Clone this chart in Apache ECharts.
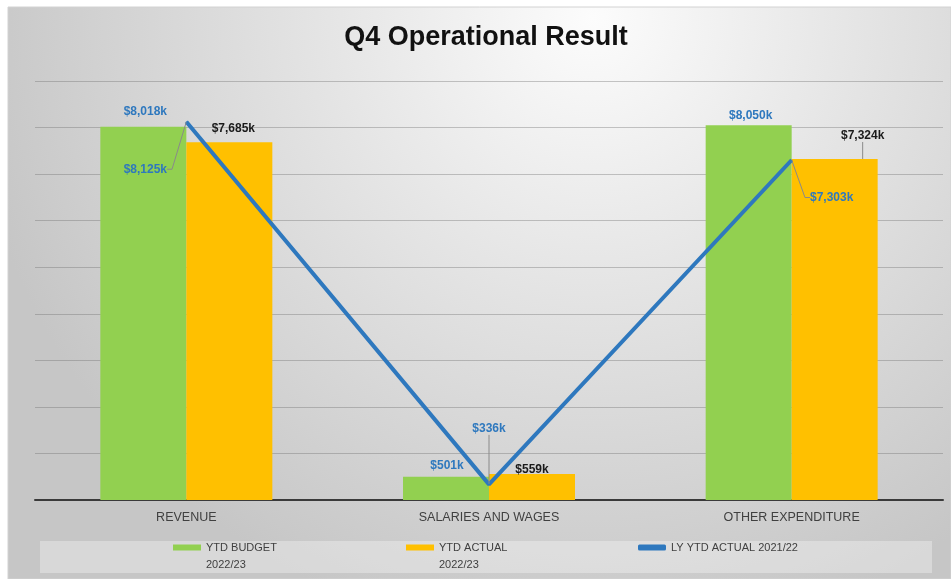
<!DOCTYPE html>
<html>
<head>
<meta charset="utf-8">
<title>Q4 Operational Result</title>
<script src="https://cdn.jsdelivr.net/npm/echarts@6/dist/echarts.min.js"></script>
<style>
  html, body { margin: 0; padding: 0; background: #ffffff; }
  #chart { width: 951px; height: 579px; }
</style>
</head>
<body>
<div id="chart"></div>
<script>
// Categories and values in $k
const categories = ['REVENUE', 'SALARIES AND WAGES', 'OTHER EXPENDITURE'];
const ytdBudget = [8018, 501, 8050];
const ytdActual = [7685, 559, 7324];
const lyYtdActual = [8125, 336, 7303];
const seriesNames = ['YTD BUDGET\n2022/23', 'YTD ACTUAL\n2022/23', 'LY YTD ACTUAL 2021/22'];

// Label nudges (pixels) per category, kept apart from the values
const budgetLabelShift = [{ dx: 2, dy: -4 }, { dx: 1, dy: 0 }, { dx: 2, dy: 1 }];
const actualLabelShift = [{ dx: 4, dy: -3 }, { dx: 0, dy: 7 }, { dx: 28, dy: -12 }];
const lyLabelShift = [{ dx: -41, dy: 59 }, { dx: 0, dy: -44 }, { dx: 40, dy: 49 }];
const actualLeader = [false, false, true];

const BLUE = '#2E78BE';
const GREEN = '#92D050';
const YELLOW = '#FFC000';
const TEXT_DARK = '#404040';
const fmtK = v => '$' + v.toLocaleString('en-US') + 'k';

const chart = echarts.init(document.getElementById('chart'));

const legendBase = {
  orient: 'horizontal',
  padding: 0,
  itemWidth: 28,
  itemHeight: 6,
  itemGap: 0,
  textStyle: { fontFamily: 'Liberation Sans', fontSize: 11, color: TEXT_DARK, lineHeight: 17 }
};
// two-line names: a blank leading line keeps the swatch level with the first text line
const twoLineLegend = name => ' \n' + name;

chart.setOption({
  animation: false,
  textStyle: { fontFamily: 'Liberation Sans' },
  graphic: [
    {
      type: 'rect', z: -10, silent: true,
      shape: { x: 8, y: 7, width: 943, height: 572 },
      style: {
        fill: new echarts.graphic.RadialGradient(0.62, 0.02, 1.1, [
          { offset: 0, color: '#fcfcfc' },
          { offset: 0.4, color: '#e6e6e6' },
          { offset: 1, color: '#c6c6c6' }
        ]),
        stroke: '#d2d2d2', lineWidth: 1
      }
    },
    {
      type: 'rect', z: -5, silent: true,
      shape: { x: 40, y: 541, width: 892, height: 32 },
      style: { fill: 'rgba(255,255,255,0.32)' }
    }
  ],
  title: {
    text: 'Q4 Operational Result',
    left: 481, top: 19, textAlign: 'center',
    textStyle: { fontFamily: 'Liberation Sans', fontWeight: 'bold', fontSize: 27, color: '#111111' }
  },
  legend: [
    Object.assign({}, legendBase, {
      data: [seriesNames[0]], left: 173, top: 522, icon: 'rect', formatter: twoLineLegend
    }),
    Object.assign({}, legendBase, {
      data: [seriesNames[1]], left: 406, top: 522, icon: 'rect', formatter: twoLineLegend
    }),
    Object.assign({}, legendBase, {
      data: [seriesNames[2]], left: 638, top: 539, icon: 'roundRect'
    })
  ],
  grid: { left: 35, right: 8, top: 81, bottom: 79, containLabel: false },
  xAxis: {
    type: 'category',
    data: categories,
    axisTick: { show: false },
    axisLine: { show: true, lineStyle: { color: '#3a3a3a', width: 2 } },
    axisLabel: { color: TEXT_DARK, fontSize: 12.5, margin: 11, fontFamily: 'Liberation Sans' }
  },
  yAxis: {
    type: 'value',
    min: 0, max: 9000, interval: 1000,
    axisLabel: { show: false },
    axisLine: { show: false },
    axisTick: { show: false },
    splitLine: { lineStyle: { color: 'rgba(110,110,110,0.38)', width: 1 } }
  },
  series: [
    {
      name: seriesNames[0],
      type: 'bar',
      data: ytdBudget,
      barWidth: 86,
      barGap: '0%',
      itemStyle: { color: GREEN },
      label: {
        show: true, position: 'top', distance: 5,
        formatter: p => fmtK(p.value),
        color: BLUE, fontWeight: 'bold', fontSize: 12, fontFamily: 'Liberation Sans'
      },
      labelLayout: p => budgetLabelShift[p.dataIndex]
    },
    {
      name: seriesNames[1],
      type: 'bar',
      data: ytdActual.map((v, i) => ({ value: v, labelLine: { show: actualLeader[i] } })),
      barWidth: 86,
      itemStyle: { color: YELLOW },
      label: {
        show: true, position: 'top', distance: 5,
        formatter: p => fmtK(p.value),
        color: '#1a1a1a', fontWeight: 'bold', fontSize: 12, fontFamily: 'Liberation Sans'
      },
      labelLine: { length2: 0, lineStyle: { color: '#8a8a8a', width: 1 } },
      labelLayout: p => actualLabelShift[p.dataIndex]
    },
    {
      name: seriesNames[2],
      type: 'line',
      data: lyYtdActual,
      symbol: 'circle',
      symbolSize: 1,
      showSymbol: true,
      lineStyle: { color: BLUE, width: 4 },
      itemStyle: { color: BLUE },
      z: 5,
      label: {
        show: true, position: 'top', distance: 5,
        formatter: p => fmtK(p.value),
        color: BLUE, fontWeight: 'bold', fontSize: 12, fontFamily: 'Liberation Sans'
      },
      labelLine: { show: true, length2: 5, lineStyle: { color: '#8a8a8a', width: 1 } },
      labelLayout: p => lyLabelShift[p.dataIndex]
    }
  ]
});
</script>
</body>
</html>
